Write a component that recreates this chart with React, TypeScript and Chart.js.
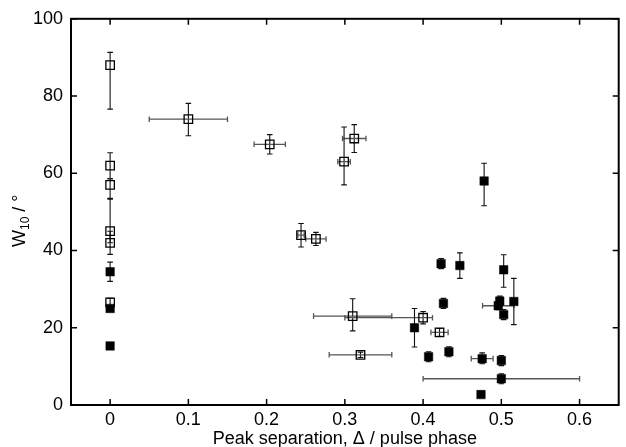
import React, { useEffect, useRef } from "react";
import { Chart, registerables } from "chart.js";

Chart.register(...registerables);

// Axis ticks
const xTicks = [0, 0.1, 0.2, 0.3, 0.4, 0.5, 0.6];
const yTicks = [0, 20, 40, 60, 80, 100];

const xTitle = "Peak separation, \u0394 / pulse phase";

// Open squares
const openX = [0, 0.1, 0.204, 0, 0, 0, 0, 0, 0.312, 0.299, 0.244, 0.263, 0.31, 0.4, 0.421, 0.32];
const openY = [88, 74, 67.5, 62, 57, 45, 42, 26.6, 69, 63, 44, 43, 23, 22.6, 18.8, 13];
const openXErrLo = [0, 0.05, 0.02, 0, 0, 0, 0, 0, 0.015, 0.008, 0.004, 0.013, 0.05, 0.1, 0.011, 0.04];
const openXErrHi = [0, 0.05, 0.02, 0, 0, 0, 0, 0, 0.015, 0.008, 0.004, 0.013, 0.05, 0.012, 0.011, 0.04];
const openYErrLo = [11.4, 4.3, 2.5, 3.4, 3.7, 3, 3, 1, 3.6, 6, 3.1, 1.7, 3.8, 1.6, 1, 0.7];
const openYErrHi = [3.3, 4.1, 2.5, 3.3, 1.6, 8.5, 3, 1, 3.6, 9, 3, 1.7, 4.5, 1.6, 1, 0.7];

// Filled squares
const fillX = [0, 0, 0, 0.478, 0.423, 0.447, 0.503, 0.426, 0.498, 0.496, 0.516, 0.503, 0.389, 0.407, 0.433, 0.4755, 0.5, 0.5, 0.474];
const fillY = [34.5, 25, 15.3, 58, 36.6, 36.1, 35, 26.3, 26.9, 25.7, 26.8, 23.4, 20, 12.5, 13.8, 12, 11.5, 6.8, 2.7];
const fillXErrLo = [0, 0, 0, 0, 0, 0, 0, 0, 0, 0.02, 0, 0, 0, 0, 0, 0.014, 0, 0.1, 0];
const fillXErrHi = [0, 0, 0, 0, 0, 0, 0, 0, 0, 0.02, 0, 0, 0, 0, 0, 0.014, 0, 0.1, 0];
const fillYErrLo = [2.5, 0, 0, 6.4, 1.3, 3.3, 4.5, 1.3, 1.3, 1, 6, 1.3, 5, 1.3, 1.3, 1.3, 1.3, 1.3, 0];
const fillYErrHi = [2.5, 0, 0, 4.6, 1.3, 3.3, 3.9, 1.3, 1.3, 1, 6, 1.3, 5, 1.3, 1.3, 1.5, 1.3, 1.3, 0];

const FONT = "'Liberation Sans', Arial, Helvetica, sans-serif";

const errors = [
  { xLo: openXErrLo, xHi: openXErrHi, yLo: openYErrLo, yHi: openYErrHi },
  { xLo: fillXErrLo, xHi: fillXErrHi, yLo: fillYErrLo, yHi: fillYErrHi },
];

const errorBarPlugin = {
  id: "errorBars",
  beforeDatasetsDraw(chart: any) {
    const ctx = chart.ctx;
    const xs = chart.scales.x;
    const ys = chart.scales.y;
    const cap = 2.8;
    ctx.save();
    chart.data.datasets.forEach((ds: any, di: number) => {
      const e = errors[di];
      ds.data.forEach((p: any, i: number) => {
        const px = xs.getPixelForValue(p.x);
        const py = ys.getPixelForValue(p.y);
        if (e.yLo[i] > 0 || e.yHi[i] > 0) {
          const yt = ys.getPixelForValue(p.y + e.yHi[i]);
          const yb = ys.getPixelForValue(p.y - e.yLo[i]);
          ctx.strokeStyle = "#111";
          ctx.lineWidth = 1.1;
          ctx.beginPath();
          ctx.moveTo(px, yt);
          ctx.lineTo(px, yb);
          ctx.moveTo(px - cap, yt);
          ctx.lineTo(px + cap, yt);
          ctx.moveTo(px - cap, yb);
          ctx.lineTo(px + cap, yb);
          ctx.stroke();
        }
        if (e.xLo[i] > 0 || e.xHi[i] > 0) {
          const xl = xs.getPixelForValue(p.x - e.xLo[i]);
          const xr = xs.getPixelForValue(p.x + e.xHi[i]);
          ctx.strokeStyle = "#555";
          ctx.lineWidth = 1.3;
          ctx.beginPath();
          ctx.moveTo(xl, py);
          ctx.lineTo(xr, py);
          ctx.moveTo(xl, py - cap);
          ctx.lineTo(xl, py + cap);
          ctx.moveTo(xr, py - cap);
          ctx.lineTo(xr, py + cap);
          ctx.stroke();
        }
      });
    });
    ctx.restore();
  },
};

const framePlugin = {
  id: "frame",
  afterDraw(chart: any) {
    const ctx = chart.ctx;
    const { left, right, top, bottom } = chart.chartArea;
    const xs = chart.scales.x;
    const ys = chart.scales.y;
    const tl = 6;
    ctx.save();
    ctx.strokeStyle = "#000";
    ctx.lineWidth = 1.5;
    ctx.beginPath();
    xTicks.forEach((v) => {
      const px = xs.getPixelForValue(v);
      ctx.moveTo(px, bottom);
      ctx.lineTo(px, bottom - tl);
      ctx.moveTo(px, top);
      ctx.lineTo(px, top + tl);
    });
    yTicks.forEach((v) => {
      const py = ys.getPixelForValue(v);
      ctx.moveTo(left, py);
      ctx.lineTo(left + tl, py);
      ctx.moveTo(right, py);
      ctx.lineTo(right - tl, py);
    });
    ctx.stroke();
    ctx.lineWidth = 2;
    ctx.strokeRect(left, top, right - left, bottom - top);

    // x title
    ctx.fillStyle = "#000";
    ctx.font = `18px ${FONT}`;
    ctx.textAlign = "center";
    ctx.textBaseline = "alphabetic";
    ctx.fillText(xTitle, (left + right) / 2, 443.5);

    // y title with subscript
    ctx.translate(25, 247);
    ctx.rotate(-Math.PI / 2);
    ctx.textAlign = "left";
    ctx.font = `18px ${FONT}`;
    ctx.fillText("W", 0, 0);
    let w = ctx.measureText("W").width;
    ctx.font = `12px ${FONT}`;
    ctx.fillText("10", w, 4);
    w += ctx.measureText("10").width;
    ctx.font = `18px ${FONT}`;
    ctx.fillText(" / \u00b0", w, 0);
    ctx.restore();
  },
};

export default function App() {
  const ref = useRef<HTMLCanvasElement | null>(null);

  useEffect(() => {
    document.body.style.margin = "0";
    const canvas = ref.current;
    if (!canvas) return;
    const chart = new Chart(canvas, {
      type: "scatter",
      data: {
        datasets: [
          {
            label: "open",
            data: openX.map((x, i) => ({ x, y: openY[i] })),
            pointStyle: "rect",
            pointRadius: 6,
            pointHoverRadius: 6,
            borderColor: "#000",
            borderWidth: 1.3,
            backgroundColor: "rgba(0,0,0,0)",
          },
          {
            label: "filled",
            data: fillX.map((x, i) => ({ x, y: fillY[i] })),
            pointStyle: "rect",
            pointRadius: 6,
            pointHoverRadius: 6,
            borderColor: "#000",
            borderWidth: 0.5,
            backgroundColor: "#000",
          },
        ],
      },
      options: {
        animation: false,
        responsive: false,
        maintainAspectRatio: false,
        devicePixelRatio: 1,
        layout: { padding: { top: 14, right: 1.5, left: 0, bottom: 0 } },
        plugins: {
          legend: { display: false },
          tooltip: { enabled: false },
        },
        scales: {
          x: {
            type: "linear",
            min: -0.05,
            max: 0.65,
            grid: { display: false, drawTicks: false },
            border: { display: false },
            afterBuildTicks: (scale: any) => {
              scale.ticks = xTicks.map((v) => ({ value: v }));
            },
            afterFit: (scale: any) => {
              scale.height = 42;
            },
            ticks: {
              padding: 4,
              color: "#000",
              font: { family: FONT, size: 18 },
              callback: (v: any) => String(v),
              maxRotation: 0,
            },
          },
          y: {
            type: "linear",
            min: 0,
            max: 100,
            grid: { display: false, drawTicks: false },
            border: { display: false },
            afterBuildTicks: (scale: any) => {
              scale.ticks = yTicks.map((v) => ({ value: v }));
            },
            afterFit: (scale: any) => {
              scale.width = 71;
            },
            ticks: {
              padding: 8,
              color: "#000",
              font: { family: FONT, size: 18 },
              callback: (v: any) => String(v),
            },
          },
        },
      },
      plugins: [errorBarPlugin, framePlugin],
    });
    return () => chart.destroy();
  }, []);

  return <canvas ref={ref} width={626} height={447} style={{ display: "block" }} />;
}
